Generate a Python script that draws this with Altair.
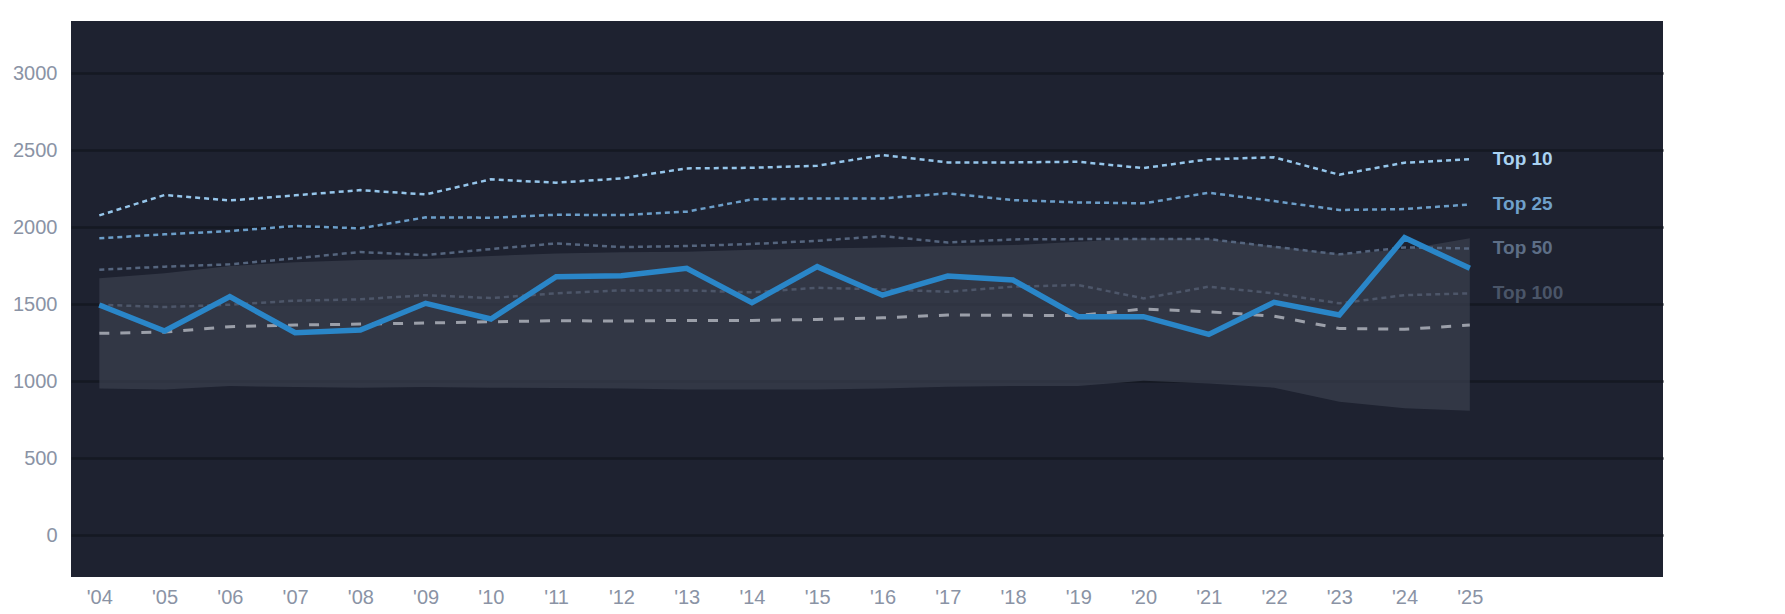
import altair as alt
import pandas as pd

years = list(range(2004, 2026))
top10 = [2076, 2208, 2173, 2206, 2240, 2212, 2310, 2288, 2316, 2381, 2385, 2398,
         2468, 2420, 2420, 2424, 2383, 2440, 2453, 2340, 2418, 2440]
top25 = [1927, 1953, 1974, 2007, 1992, 2063, 2061, 2080, 2078, 2100, 2180, 2186,
         2186, 2219, 2175, 2160, 2154, 2223, 2169, 2111, 2117, 2147]
top50 = [1723, 1743, 1758, 1797, 1838, 1818, 1857, 1894, 1870, 1877, 1890, 1911,
         1941, 1900, 1920, 1922, 1922, 1922, 1872, 1823, 1868, 1861]
top100 = [1496, 1481, 1496, 1522, 1531, 1558, 1539, 1570, 1589, 1589, 1576, 1606,
          1595, 1580, 1613, 1624, 1537, 1613, 1570, 1505, 1558, 1570]
median = [1310, 1318, 1353, 1364, 1370, 1377, 1385, 1392, 1390, 1394, 1394, 1400,
          1411, 1429, 1427, 1425, 1468, 1450, 1422, 1342, 1336, 1364]
band_high = [1667, 1700, 1747, 1772, 1786, 1792, 1813, 1828, 1836, 1840, 1852, 1861,
             1868, 1877, 1883, 1905, 1928, 1922, 1875, 1825, 1855, 1927]
band_low = [952, 946, 968, 961, 957, 961, 957, 955, 952, 946, 945, 945,
            952, 963, 968, 968, 1002, 985, 957, 866, 823, 807]
main = [1494, 1325, 1548, 1314, 1331, 1505, 1403, 1678, 1684, 1732, 1509, 1743,
        1558, 1682, 1656, 1418, 1418, 1303, 1511, 1429, 1931, 1732]

label_names = ["Top 10", "Top 25", "Top 50", "Top 100"]
label_colors = ["#a9d2f2", "#6fa0cb", "#5d6e86", "#4a5568"]

df = pd.DataFrame({
    "year": years, "top10": top10, "top25": top25, "top50": top50,
    "top100": top100, "median": median, "band_low": band_low,
    "band_high": band_high, "main": main,
})
labels = pd.DataFrame({
    "name": label_names,
    "year": [years[-1]] * 4,
    "value": [top10[-1], top25[-1], top50[-1], top100[-1]],
})

FONT = "Liberation Sans"
LABEL_COLOR = "#8a93a5"

xenc = alt.X(
    "year:Q",
    scale=alt.Scale(domain=[2003.566, 2027.96], nice=False, zero=False),
    axis=alt.Axis(
        values=years, title=None, grid=False, domain=False, ticks=False,
        labelExpr="\"'\" + substring(toString(datum.value), 2, 4)",
        labelFontSize=20, labelColor=LABEL_COLOR, labelFont=FONT,
        labelPadding=10, labelFlush=False,
    ),
)

ydom = [-272, 3338]


def yenc(field):
    return alt.Y(
        f"{field}:Q",
        scale=alt.Scale(domain=ydom, nice=False, zero=False),
        axis=alt.Axis(
            values=[0, 500, 1000, 1500, 2000, 2500, 3000], title=None,
            format="d",
            grid=True, gridColor="#151922", gridWidth=2.5, domain=False,
            ticks=False, tickSize=0, labelFontSize=20, labelColor=LABEL_COLOR,
            labelFont=FONT, labelPadding=14,
        ),
    )


base = alt.Chart(df)

area = base.mark_area(color="#3b404f", opacity=0.7).encode(
    x=xenc, y=yenc("band_low"), y2="band_high:Q"
)


def dotted(field, color, dash, width):
    return base.mark_line(color=color, strokeDash=dash, strokeWidth=width).encode(
        x=xenc, y=yenc(field)
    )


l100 = dotted("top100", "#4d5669", [5, 4], 2.5)
l50 = dotted("top50", "#55657e", [5, 4], 2.5)
l25 = dotted("top25", "#6c9ec9", [5, 4], 2.5)
l10 = dotted("top10", "#96c6eb", [5, 4], 2.5)
lmed = dotted("median", "#9b9fa9", [10, 11], 3)
lmain = base.mark_line(color="#2a86c8", strokeWidth=5.5).encode(
    x=xenc, y=yenc("main")
)

text = alt.Chart(labels).mark_text(
    align="left", baseline="middle", dx=23, fontSize=19, fontWeight="bold",
    font=FONT,
).encode(
    x=xenc, y=yenc("value"), text="name:N",
    color=alt.Color("name:N", scale=alt.Scale(domain=label_names, range=label_colors), legend=None),
)

chart = alt.layer(area, l100, l50, l25, l10, lmed, lmain, text).properties(
    width=1592, height=556,
    autosize=alt.AutoSizeParams(type="none"),
    padding={"left": 63, "top": 13, "right": 114, "bottom": 29},
    background="white",
).configure_view(fill="#1e2230", stroke=None)

chart.save("out.html", embed_options={"renderer": "svg", "actions": False})
